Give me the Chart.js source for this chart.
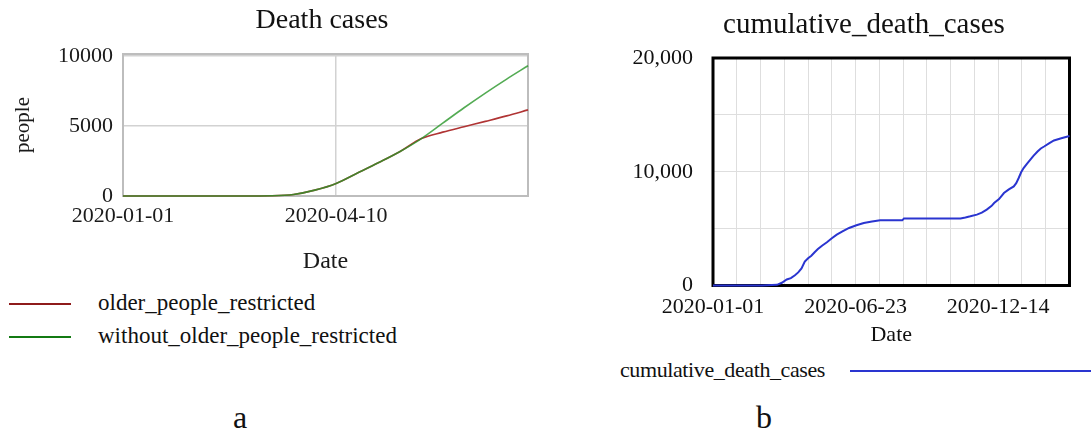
<!DOCTYPE html>
<html>
<head>
<meta charset="utf-8">
<script src="https://cdn.jsdelivr.net/npm/chart.js@4.4.1/dist/chart.umd.min.js"></script>
<style>
  html, body { margin: 0; padding: 0; background: #fff; }
  #page { position: relative; width: 1091px; height: 433px; overflow: hidden; background: #fff;
          font-family: 'Liberation Serif', 'DejaVu Serif', serif; color: #111; }
  .txt { position: absolute; white-space: nowrap; line-height: 1; }
  .swatch { position: absolute; height: 0; }
  canvas { position: absolute; }
</style>
</head>
<body>
<div id="page">
  <canvas id="chartA" width="545" height="280" style="left:0;top:0;width:545px;height:280px"></canvas>
  <canvas id="chartB" width="491" height="350" style="left:600px;top:0;width:491px;height:350px"></canvas>

  <div class="txt" style="left:322px;top:5px;font-size:28px;transform:translateX(-50%)">Death cases</div>
  <div class="txt" style="left:864px;top:9px;font-size:29px;transform:translateX(-50%)">cumulative_death_cases</div>

  <div class="swatch" style="left:9px;top:303px;width:62px;border-top:2.5px solid #8e1b1b"></div>
  <div class="txt" style="left:98px;top:291px;font-size:23px">older_people_restricted</div>
  <div class="swatch" style="left:9px;top:336px;width:62px;border-top:2.5px solid #137a13"></div>
  <div class="txt" style="left:98px;top:324px;font-size:23px">without_older_people_restricted</div>

  <div class="txt" style="left:620px;top:359px;font-size:22px;letter-spacing:-0.4px">cumulative_death_cases</div>
  <div class="swatch" style="left:850px;top:370px;width:241px;border-top:2px solid #2a35d0"></div>

  <div class="txt" style="left:240px;top:401px;font-size:32px;transform:translateX(-50%)">a</div>
  <div class="txt" style="left:764px;top:401px;font-size:32px;transform:translateX(-50%)">b</div>
</div>
<script>
// ---------- Data: panel a (Death cases) ----------
const daysA = [0, 10, 20, 30, 40, 50, 60, 70, 80, 90, 100, 110, 120, 130, 140, 150, 160, 170, 180, 190];
const olderPeopleRestricted = [0, 0, 0, 0, 0, 0, 2, 15, 110, 420, 900, 1640, 2390, 3180, 4100, 4560, 4950, 5330, 5720, 6150];
const withoutOlderPeopleRestricted = [0, 0, 0, 0, 0, 0, 2, 15, 110, 420, 900, 1640, 2390, 3180, 4100, 5200, 6300, 7350, 8350, 9300];
const xTicksA = [0, 100];          // 2020-01-01, 2020-04-10
const yTicksA = [0, 5000, 10000];

// ---------- Data: panel b (cumulative_death_cases) ----------
const daysB = [0, 60, 66, 78, 84, 90, 95, 100, 104, 108, 112, 116, 120, 124, 128, 133, 139, 145, 151, 158, 166, 175, 184, 194, 204, 231, 233, 302, 308, 314, 322, 328, 334, 340, 343, 349, 355, 361, 367, 370, 373, 376, 379, 383, 387, 391, 396, 400, 404, 410, 416, 425, 435];
const cumulativeDeathCases = [0, 0, 30, 60, 240, 530, 650, 900, 1150, 1500, 2100, 2400, 2620, 2920, 3200, 3500, 3800, 4150, 4470, 4750, 5060, 5300, 5500, 5620, 5730, 5730, 5900, 5900, 5980, 6080, 6230, 6400, 6670, 7000, 7250, 7600, 8130, 8450, 8710, 9000, 9450, 9950, 10320, 10700, 11050, 11400, 11780, 12050, 12220, 12500, 12750, 12950, 13150];
const xLabelDaysB = [0, 174, 348];   // 2020-01-01, 2020-06-23, 2020-12-14
const yLabelValuesB = [0, 10000, 20000];

const START = Date.UTC(2020, 0, 1);
function dateLabel(day) {
  return new Date(START + day * 86400000).toISOString().slice(0, 10);
}
const SERIF = "'Liberation Serif', 'DejaVu Serif', serif";

function framePlugin(color, width) {
  return {
    id: 'frame',
    beforeDatasetsDraw(chart) {
      const { ctx, chartArea: a } = chart;
      ctx.save();
      ctx.strokeStyle = color;
      ctx.lineWidth = width;
      ctx.strokeRect(a.left, a.top, a.right - a.left, a.bottom - a.top);
      ctx.restore();
    }
  };
}

// ---------- Chart a ----------
new Chart(document.getElementById('chartA'), {
  type: 'line',
  data: {
    datasets: [
      {
        label: 'older_people_restricted',
        data: daysA.map((d, i) => ({ x: d, y: olderPeopleRestricted[i] })),
        borderColor: '#b03434',
        borderWidth: 1.6,
        pointRadius: 0,
        cubicInterpolationMode: 'monotone',
        clip: 4,
        order: 1
      },
      {
        label: 'without_older_people_restricted',
        data: daysA.map((d, i) => ({ x: d, y: withoutOlderPeopleRestricted[i] })),
        borderColor: 'rgba(40,150,40,0.8)',
        borderWidth: 1.6,
        pointRadius: 0,
        cubicInterpolationMode: 'monotone',
        clip: 4,
        order: 0
      }
    ]
  },
  options: {
    responsive: false,
    animation: false,
    devicePixelRatio: 1,
    layout: { padding: { top: 54, right: 17, left: 0, bottom: 0 } },
    plugins: { legend: { display: false }, tooltip: { enabled: false }, title: { display: false } },
    scales: {
      x: {
        type: 'linear', min: 0, max: 190,
        afterBuildTicks: s => { s.ticks = xTicksA.map(v => ({ value: v })); },
        afterFit: s => { s.height = 84; },
        grid: { color: '#d2d2d2', lineWidth: 1.5, drawTicks: false },
        border: { display: false },
        ticks: { padding: 7, autoSkip: false, maxRotation: 0, color: '#1a1a1a',
                 font: { family: SERIF, size: 22 }, callback: v => dateLabel(v) },
        title: { display: true, text: 'Date', color: '#1a1a1a', font: { family: SERIF, size: 24 },
                 padding: { top: 4, bottom: 4 } }
      },
      y: {
        type: 'linear', min: 0, max: 10140,
        afterBuildTicks: s => { s.ticks = yTicksA.map(v => ({ value: v })); },
        afterFit: s => { s.width = 123; },
        grid: { color: '#d2d2d2', lineWidth: 1.5, drawTicks: false },
        border: { display: false },
        ticks: { padding: 10, color: '#1a1a1a', font: { family: SERIF, size: 22 }, callback: v => String(v) },
        title: { display: true, text: 'people', color: '#1a1a1a', font: { family: SERIF, size: 21 },
                 padding: { top: 11, bottom: 4 } }
      }
    }
  },
  plugins: [framePlugin('#bdbdbd', 2)]
});

// ---------- Chart b ----------
new Chart(document.getElementById('chartB'), {
  type: 'line',
  data: {
    datasets: [
      {
        label: 'cumulative_death_cases',
        data: daysB.map((d, i) => ({ x: d, y: cumulativeDeathCases[i] })),
        borderColor: '#2a35d0',
        borderWidth: 2,
        pointRadius: 0,
        tension: 0,
        clip: 4
      }
    ]
  },
  options: {
    responsive: false,
    animation: false,
    devicePixelRatio: 1,
    layout: { padding: { top: 58, right: 21.5, left: 0, bottom: 0 } },
    plugins: { legend: { display: false }, tooltip: { enabled: false }, title: { display: false } },
    scales: {
      x: {
        type: 'linear', min: 0, max: 435,
        ticks: { stepSize: 29, padding: 9, autoSkip: false, maxRotation: 0, color: '#111',
                 font: { family: SERIF, size: 22 },
                 callback: v => xLabelDaysB.includes(v) ? dateLabel(v) : '' },
        afterFit: s => { s.height = 64.5; },
        grid: { color: '#dedede', lineWidth: 1, drawTicks: false },
        border: { display: false },
        title: { display: true, text: 'Date', color: '#111', font: { family: SERIF, size: 22 },
                 padding: { top: 2, bottom: 2 } }
      },
      y: {
        type: 'linear', min: 0, max: 20000,
        ticks: { stepSize: 5000, padding: 20, color: '#111', font: { family: SERIF, size: 22 },
                 callback: v => yLabelValuesB.includes(v) ? v.toLocaleString('en-US') : '' },
        afterFit: s => { s.width = 113; },
        grid: { color: '#dedede', lineWidth: 1, drawTicks: false },
        border: { display: false }
      }
    }
  },
  plugins: [framePlugin('#000', 3)]
});
</script>
</body>
</html>
